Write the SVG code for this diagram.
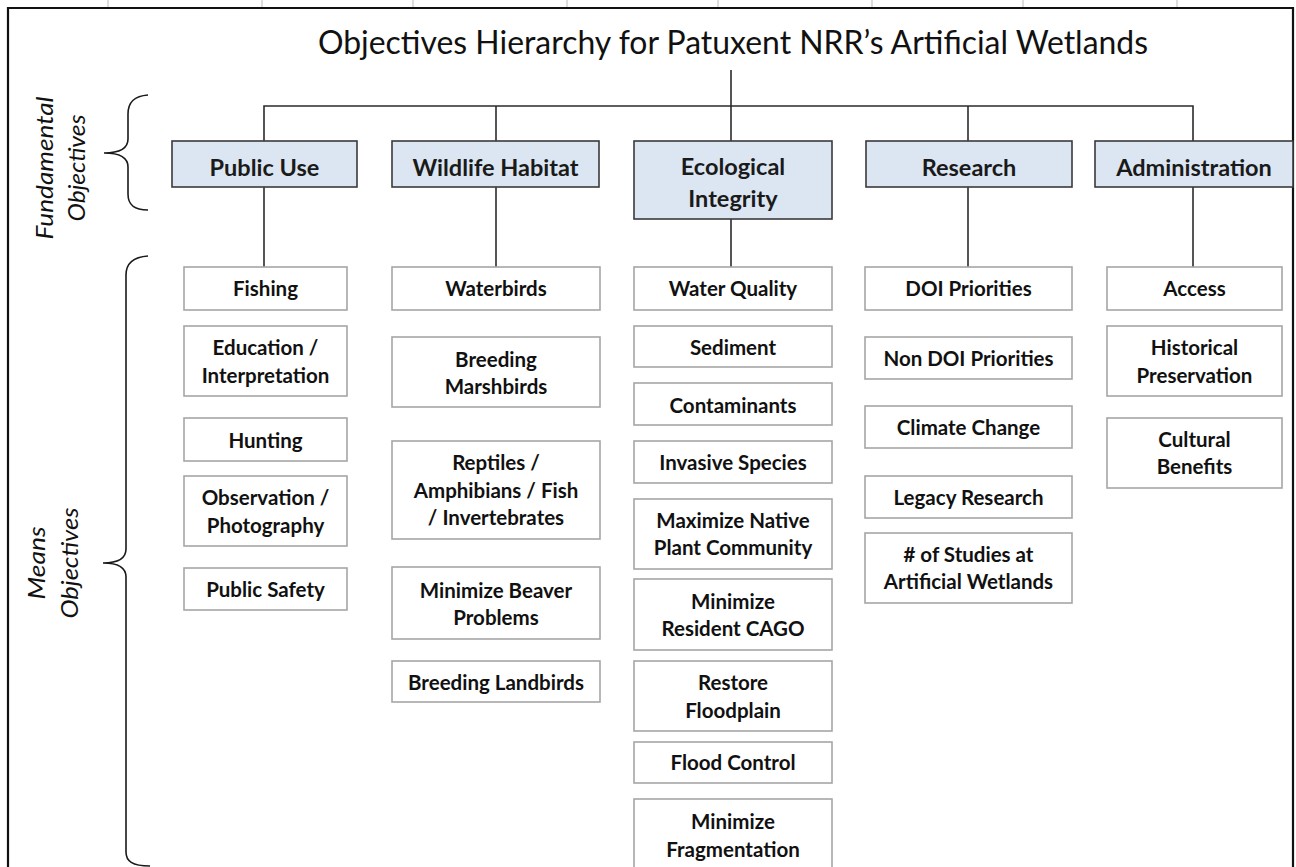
<svg xmlns="http://www.w3.org/2000/svg" width="1296" height="867" viewBox="0 0 1296 867">
<defs>
<style>
.frame{fill:none;stroke:#111;stroke-width:2.2}
.tick{stroke:#bbb;stroke-width:1}
.con{fill:none;stroke:#2b2b2b;stroke-width:1.6}
.brace{fill:none;stroke:#1a1a1a;stroke-width:1.6}
.top rect{fill:#dce6f2;stroke:#3a3a3a;stroke-width:1.6}
.top text{font-family:Lato,"Liberation Sans",sans-serif;font-weight:bold;font-size:23.5px;fill:#1a1a1a;text-anchor:middle}
.m rect{fill:#fff;stroke:#a6a6a6;stroke-width:1.6}
.m text{font-family:Lato,"Liberation Sans",sans-serif;font-weight:bold;font-size:20.5px;fill:#111;text-anchor:middle}
.title{font-family:Lato,"Liberation Sans",sans-serif;font-size:32px;fill:#111}
.side{font-family:Lato,"Liberation Sans",sans-serif;font-style:italic;font-size:23px;fill:#111;text-anchor:middle}
</style>
</defs>
<rect width="1296" height="867" fill="#fff"/>
<g id="ticks">
<line class="tick" x1="108" y1="0" x2="108" y2="7"/>
<line class="tick" x1="262" y1="0" x2="262" y2="7"/>
<line class="tick" x1="413" y1="0" x2="413" y2="7"/>
<line class="tick" x1="567" y1="0" x2="567" y2="7"/>
<line class="tick" x1="718" y1="0" x2="718" y2="7"/>
<line class="tick" x1="872" y1="0" x2="872" y2="7"/>
<line class="tick" x1="1023" y1="0" x2="1023" y2="7"/>
<line class="tick" x1="1177" y1="0" x2="1177" y2="7"/>
</g>
<path class="frame" d="M8,870 V8 H1293 V870"/>
<text id="title" class="title" x="318" y="54" textLength="830" lengthAdjust="spacingAndGlyphs">Objectives Hierarchy  for Patuxent NRR’s Artificial Wetlands</text>
<g id="side-labels">
<text class="side" transform="translate(53,168) rotate(-90)" textLength="143" lengthAdjust="spacingAndGlyphs">Fundamental</text>
<text class="side" transform="translate(85,168) rotate(-90)" textLength="107" lengthAdjust="spacingAndGlyphs">Objectives</text>
<text class="side" transform="translate(45,563) rotate(-90)" textLength="73" lengthAdjust="spacingAndGlyphs">Means</text>
<text class="side" transform="translate(78,563) rotate(-90)" textLength="111" lengthAdjust="spacingAndGlyphs">Objectives</text>
<path class="brace" d="M148,95 C134,96 128,102 128,114 V139 C128,148 120,153 104,153 C120,153 128,158 128,167 V194 C128,205 134,210 148,210"/>
<path class="brace" d="M148,256 C134,257 126,263 126,275 V549 C126,558 118,563 103,563 C118,563 126,568 126,577 V852 C126,861 132,866 150,866"/>
</g>
<g id="connectors">
<line class="con" x1="731" y1="70" x2="731" y2="141"/>
<path class="con" d="M264,141 V106 H1193 V141"/>
<line class="con" x1="496" y1="106" x2="496" y2="141"/>
<line class="con" x1="968" y1="106" x2="968" y2="141"/>
<line class="con" x1="264" y1="187" x2="264" y2="267"/>
<line class="con" x1="496" y1="187" x2="496" y2="267"/>
<line class="con" x1="731" y1="219" x2="731" y2="267"/>
<line class="con" x1="968" y1="187" x2="968" y2="267"/>
<line class="con" x1="1193" y1="187" x2="1193" y2="267"/>
</g>
<g id="public-use" class="top"><rect x="172" y="141" width="185" height="46"/><text x="264.5" y="175.5">Public Use</text></g>
<g id="wildlife-habitat" class="top"><rect x="392" y="141" width="207" height="46"/><text x="495.5" y="175.5">Wildlife Habitat</text></g>
<g id="ecological-integrity" class="top"><rect x="634" y="141" width="198" height="78"/><text x="733" y="174.5">Ecological</text><text x="733" y="206.5">Integrity</text></g>
<g id="research" class="top"><rect x="866" y="141" width="206" height="46"/><text x="969" y="175.5">Research</text></g>
<g id="administration" class="top"><rect x="1095" y="141" width="198" height="46"/><text x="1194" y="175.5">Administration</text></g>

<g id="fishing" class="m"><rect x="184" y="267" width="163" height="43"/><text x="265.5" y="296">Fishing</text></g>
<g id="education" class="m"><rect x="184" y="326" width="163" height="70"/><text x="265.5" y="355">Education /</text><text x="265.5" y="383">Interpretation</text></g>
<g id="hunting" class="m"><rect x="184" y="418" width="163" height="43"/><text x="265.5" y="447.5">Hunting</text></g>
<g id="observation" class="m"><rect x="184" y="476" width="163" height="70"/><text x="265.5" y="505">Observation /</text><text x="265.5" y="533">Photography</text></g>
<g id="public-safety" class="m"><rect x="184" y="568" width="163" height="42"/><text x="265.5" y="597">Public Safety</text></g>

<g id="waterbirds" class="m"><rect x="392" y="267" width="208" height="43"/><text x="496" y="296">Waterbirds</text></g>
<g id="breeding-marshbirds" class="m"><rect x="392" y="337" width="208" height="70"/><text x="496" y="367">Breeding</text><text x="496" y="394">Marshbirds</text></g>
<g id="reptiles" class="m"><rect x="392" y="441" width="208" height="98"/><text x="496" y="470">Reptiles /</text><text x="496" y="498">Amphibians / Fish</text><text x="496" y="525">/ Invertebrates</text></g>
<g id="beaver" class="m"><rect x="392" y="567" width="208" height="72"/><text x="496" y="598">Minimize Beaver</text><text x="496" y="625">Problems</text></g>
<g id="breeding-landbirds" class="m"><rect x="392" y="661" width="208" height="41"/><text x="496" y="690">Breeding Landbirds</text></g>

<g id="water-quality" class="m"><rect x="634" y="267" width="198" height="43"/><text x="733" y="296">Water Quality</text></g>
<g id="sediment" class="m"><rect x="634" y="326" width="198" height="41"/><text x="733" y="355">Sediment</text></g>
<g id="contaminants" class="m"><rect x="634" y="383" width="198" height="42"/><text x="733" y="413">Contaminants</text></g>
<g id="invasive-species" class="m"><rect x="634" y="441" width="198" height="42"/><text x="733" y="470">Invasive Species</text></g>
<g id="native-plant" class="m"><rect x="634" y="499" width="198" height="70"/><text x="733" y="528">Maximize Native</text><text x="733" y="555">Plant Community</text></g>
<g id="cago" class="m"><rect x="634" y="579" width="198" height="71"/><text x="733" y="609">Minimize</text><text x="733" y="636">Resident CAGO</text></g>
<g id="floodplain" class="m"><rect x="634" y="661" width="198" height="70"/><text x="733" y="690">Restore</text><text x="733" y="718">Floodplain</text></g>
<g id="flood-control" class="m"><rect x="634" y="742" width="198" height="41"/><text x="733" y="770">Flood Control</text></g>
<g id="fragmentation" class="m"><rect x="634" y="799" width="198" height="75"/><text x="733" y="829">Minimize</text><text x="733" y="857">Fragmentation</text></g>

<g id="doi" class="m"><rect x="865" y="267" width="207" height="43"/><text x="968.5" y="296">DOI Priorities</text></g>
<g id="non-doi" class="m"><rect x="865" y="337" width="207" height="42"/><text x="968.5" y="366">Non DOI Priorities</text></g>
<g id="climate" class="m"><rect x="865" y="406" width="207" height="42"/><text x="968.5" y="435">Climate Change</text></g>
<g id="legacy" class="m"><rect x="865" y="476" width="207" height="42"/><text x="968.5" y="505">Legacy Research</text></g>
<g id="studies" class="m"><rect x="865" y="533" width="207" height="70"/><text x="968.5" y="562"># of Studies at</text><text x="968.5" y="589">Artificial Wetlands</text></g>

<g id="access" class="m"><rect x="1107" y="267" width="175" height="43"/><text x="1194.5" y="296">Access</text></g>
<g id="historical" class="m"><rect x="1107" y="326" width="175" height="70"/><text x="1194.5" y="355">Historical</text><text x="1194.5" y="383">Preservation</text></g>
<g id="cultural" class="m"><rect x="1107" y="418" width="175" height="70"/><text x="1194.5" y="447">Cultural</text><text x="1194.5" y="474">Benefits</text></g>
</svg>
